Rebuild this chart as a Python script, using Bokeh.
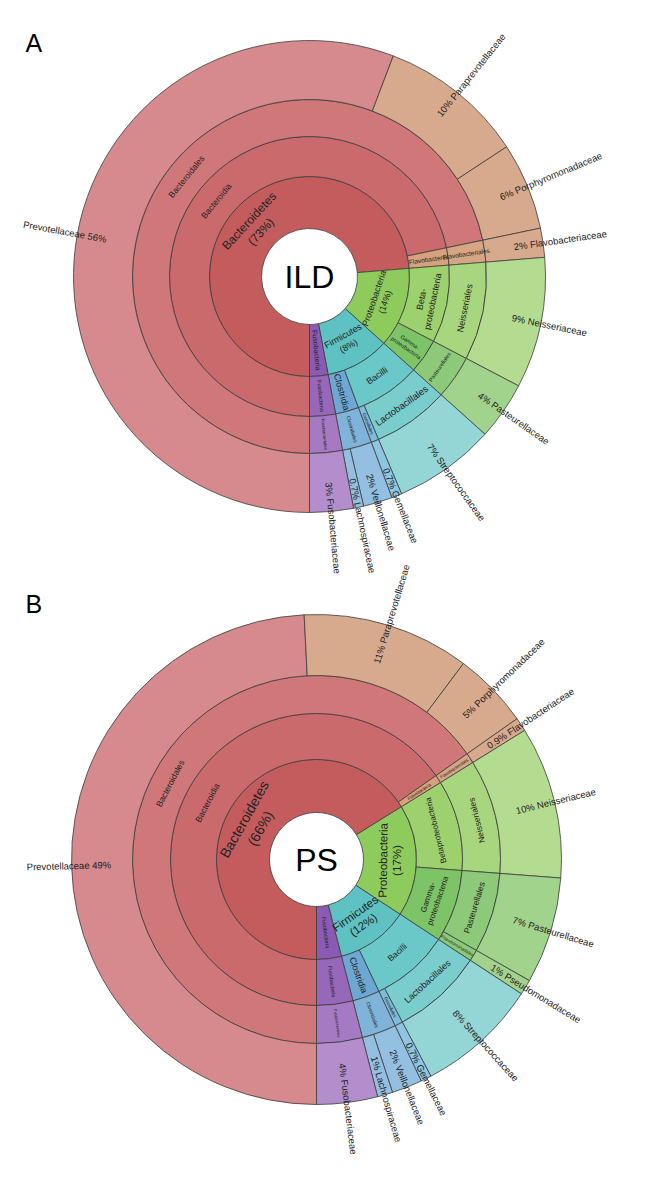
import math
import numpy as np
from bokeh.plotting import figure
from bokeh.models import Range1d
from bokeh.core.properties import value
from bokeh.embed import file_html
from bokeh.resources import INLINE

# ---------------- data ----------------
ild_families = ["Prevotellaceae", "Paraprevotellaceae", "Porphyromonadaceae", "Flavobacteriaceae",
                "Neisseriaceae", "Pasteurellaceae",
                "Streptococcaceae", "Gemellaceae", "Veillonellaceae", "Lachnospiraceae",
                "Fusobacteriaceae"]
ild_family_pct = [56, 10, 6, 2, 9, 4, 7, 0.7, 2, 0.7, 3]
ild_phylum_pct = {"Bacteroidetes": 73, "Proteobacteria": 14, "Firmicutes": 8}

ps_families = ["Prevotellaceae", "Paraprevotellaceae", "Porphyromonadaceae", "Flavobacteriaceae",
               "Neisseriaceae", "Pasteurellaceae", "Pseudomonadaceae",
               "Streptococcaceae", "Gemellaceae", "Veillonellaceae", "Lachnospiraceae",
               "Fusobacteriaceae"]
ps_family_pct = [49, 11, 5, 0.9, 10, 7, 1, 8, 0.7, 2, 1, 4]
ps_phylum_pct = {"Bacteroidetes": 66, "Proteobacteria": 17, "Firmicutes": 12}

# family -> (phylum, class, order)
LINEAGE = {
    "Prevotellaceae": ("Bacteroidetes", "Bacteroidia", "Bacteroidales"),
    "Paraprevotellaceae": ("Bacteroidetes", "Bacteroidia", "Bacteroidales"),
    "Porphyromonadaceae": ("Bacteroidetes", "Bacteroidia", "Bacteroidales"),
    "Flavobacteriaceae": ("Bacteroidetes", "Flavobacteria", "Flavobacteriales"),
    "Neisseriaceae": ("Proteobacteria", "Betaproteobacteria", "Neisseriales"),
    "Pasteurellaceae": ("Proteobacteria", "Gammaproteobacteria", "Pasteurellales"),
    "Pseudomonadaceae": ("Proteobacteria", "Gammaproteobacteria", "Pseudomonadales"),
    "Streptococcaceae": ("Firmicutes", "Bacilli", "Lactobacillales"),
    "Gemellaceae": ("Firmicutes", "Bacilli", "Gemellales"),
    "Veillonellaceae": ("Firmicutes", "Clostridia", "Clostridiales"),
    "Lachnospiraceae": ("Firmicutes", "Clostridia", "Clostridiales"),
    "Fusobacteriaceae": ("Fusobacteria", "Fusobacteria", "Fusobacteriales"),
}

# ---------------- styles ----------------
COLORS = {
    (0, "Bacteroidetes"): "#C45C5E", (1, "Bacteroidia"): "#CA6A6C", (2, "Bacteroidales"): "#CF7779",
    (3, "Prevotellaceae"): "#D78A8D", (3, "Paraprevotellaceae"): "#D7AA8D", (3, "Porphyromonadaceae"): "#D7AA8D",
    (1, "Flavobacteria"): "#D6A17C", (2, "Flavobacteriales"): "#D6A584", (3, "Flavobacteriaceae"): "#D7AA8D",
    (0, "Proteobacteria"): "#8ECB5D", (1, "Betaproteobacteria"): "#9CD16D", (2, "Neisseriales"): "#A8D67E",
    (3, "Neisseriaceae"): "#B4DC91", (1, "Gammaproteobacteria"): "#7DC466", (2, "Pasteurellales"): "#8CCA79",
    (3, "Pasteurellaceae"): "#A2D38D", (2, "Pseudomonadales"): "#8CCA79", (3, "Pseudomonadaceae"): "#A2D38D",
    (0, "Firmicutes"): "#5EC2C2", (1, "Bacilli"): "#6BC8C8", (2, "Lactobacillales"): "#7ACDCD",
    (3, "Streptococcaceae"): "#94D6D6", (2, "Gemellales"): "#7CBCDC", (3, "Gemellaceae"): "#8CC6E2",
    (1, "Clostridia"): "#6CA8D3", (2, "Clostridiales"): "#80B3DA", (3, "Veillonellaceae"): "#93BFE1",
    (3, "Lachnospiraceae"): "#93BFE1",
    (0, "Fusobacteria"): "#8B5BB3", (1, "Fusobacteria"): "#9767BA", (2, "Fusobacteriales"): "#A67AC3",
    (3, "Fusobacteriaceae"): "#B48ECC",
}

STYLE_ILD = {
    (0, "Bacteroidetes"): ("Bacteroidetes\n(73%)", 12, "tan"),
    (0, "Proteobacteria"): ("Proteobacteria\n(14%)", 9, "tan"),
    (0, "Firmicutes"): ("Firmicutes\n(8%)", 9, "tan"),
    (0, "Fusobacteria"): ("Fusobacteria", 7, "rad"),
    (1, "Bacteroidia"): ("Bacteroidia", 8.5, "tan"),
    (1, "Flavobacteria"): ("Flavobacteria", 6.5, "rad"),
    (1, "Betaproteobacteria"): ("Beta-\nproteobacteria", 9, "tan"),
    (1, "Gammaproteobacteria"): ("Gamma-\nproteobacteria", 5.5, "rad"),
    (1, "Bacilli"): ("Bacilli", 9, "tan"),
    (1, "Clostridia"): ("Clostridia", 9, "rad"),
    (1, "Fusobacteria"): ("Fusobacteria", 5.5, "rad"),
    (2, "Bacteroidales"): ("Bacteroidales", 8.5, "tan"),
    (2, "Flavobacteriales"): ("Flavobacteriales", 6.5, "rad"),
    (2, "Neisseriales"): ("Neisseriales", 9, "tan"),
    (2, "Pasteurellales"): ("Pasteurellales", 5.5, "tan"),
    (2, "Lactobacillales"): ("Lactobacillales", 9.5, "tan"),
    (2, "Gemellales"): ("Gemellales", 4.5, "rad"),
    (2, "Clostridiales"): ("Clostridiales", 5, "rad"),
    (2, "Fusobacteriales"): ("Fusobacteriales", 4.5, "rad"),
}
STYLE_PS = {
    (0, "Bacteroidetes"): ("Bacteroidetes\n(66%)", 14, "tan"),
    (0, "Proteobacteria"): ("Proteobacteria\n(17%)", 11.5, "tan"),
    (0, "Firmicutes"): ("Firmicutes\n(12%)", 11.5, "tan"),
    (0, "Fusobacteria"): ("Fusobacteria", 5.5, "rad"),
    (1, "Bacteroidia"): ("Bacteroidia", 8.5, "tan"),
    (1, "Flavobacteria"): ("Flavobacteria", 4.5, "rad"),
    (1, "Betaproteobacteria"): ("Betaproteobacteria", 8, "tan"),
    (1, "Gammaproteobacteria"): ("Gamma-\nproteobacteria", 8, "tan"),
    (1, "Bacilli"): ("Bacilli", 8.5, "tan"),
    (1, "Clostridia"): ("Clostridia", 9, "rad"),
    (1, "Fusobacteria"): ("Fusobacteria", 5.5, "rad"),
    (2, "Bacteroidales"): ("Bacteroidales", 8.5, "tan"),
    (2, "Flavobacteriales"): ("Flavobacteriales", 4.5, "rad"),
    (2, "Neisseriales"): ("Neisseriales", 8.5, "tan"),
    (2, "Pasteurellales"): ("Pasteurellales", 8.5, "tan"),
    (2, "Pseudomonadales"): ("Pseudomonadales", 4.5, "rad"),
    (2, "Lactobacillales"): ("Lactobacillales", 9, "tan"),
    (2, "Gemellales"): ("Gemellales", 4.5, "rad"),
    (2, "Clostridiales"): ("Clostridiales", 5, "rad"),
    (2, "Fusobacteriales"): ("Fusobacteriales", 4, "rad"),
}

FONT = "Liberation Sans"
TXT = "#222222"
W, H = 650, 1180

p = figure(width=634, height=1164, output_backend="svg", toolbar_location=None,
           x_range=Range1d(8, 642), y_range=Range1d(8, 1172),
           x_axis_location=None, y_axis_location=None, min_border=0)
p.grid.visible = False
p.outline_line_color = None
p.background_fill_color = "white"


def fmt(v):
    return "%g" % v


def sunburst(families, pcts, styles, cx, cy_screen, radii, fam_frac, center_text, center_size):
    cy = H - cy_screen
    total = float(sum(pcts))
    cum = np.concatenate([[0.0], np.cumsum(pcts)]) / total
    paths = [LINEAGE[f] + (f,) for f in families]
    ang = lambda c: -math.pi / 2 - 2 * math.pi * c

    wx, wy, r0, r1, a0, a1, col = [], [], [], [], [], [], []
    labels = []

    for lvl in range(4):
        i, n = 0, len(families)
        while i < n:
            key = paths[i][:lvl + 1]
            j = i
            while j + 1 < n and paths[j + 1][:lvl + 1] == key:
                j += 1
            c0, c1 = cum[i], cum[j + 1]
            name = key[-1]
            wx.append(cx); wy.append(cy)
            r0.append(radii[lvl]); r1.append(radii[lvl + 1])
            a0.append(ang(c1)); a1.append(ang(c0))
            col.append(COLORS[(lvl, name)])
            th = ang((c0 + c1) / 2)
            right = math.cos(th) >= 0
            if lvl < 3:
                if (lvl, name) in styles:
                    t, s, mode = styles[(lvl, name)]
                    rm = 0.5 * (radii[lvl] + radii[lvl + 1])
                    x, y = cx + rm * math.cos(th), cy + rm * math.sin(th)
                    if mode == "tan":
                        rot = th + math.pi / 2 if right else th - math.pi / 2
                    else:
                        rot = th if right else th + math.pi
                    labels.append((x, y, t, rot, s, "center"))
            else:
                v = pcts[i]
                rs = radii[3] + fam_frac * (radii[4] - radii[3])
                x, y = cx + rs * math.cos(th), cy + rs * math.sin(th)
                if right:
                    labels.append((x, y, f"{fmt(v)}% {name}", th, 9.5, "left"))
                else:
                    labels.append((x, y, f"{name} {fmt(v)}%", th + math.pi, 9.5, "right"))
            i = j + 1

    p.annular_wedge(x=wx, y=wy, inner_radius=r0, outer_radius=r1, start_angle=a0, end_angle=a1,
                    direction="anticlock", fill_color=col, line_color="#3c3c3c", line_width=0.8)
    for (x, y, t, rot, s, al) in labels:
        p.text(x=[x], y=[y], text=[t], angle=[rot],
               text_align=al, text_baseline="middle", text_font=value(FONT),
               text_font_size=f"{s}px", text_color=TXT, text_line_height=1.15)
    p.text(x=[cx], y=[cy], text=[center_text], text_align="center", text_baseline="middle",
           text_font=value(FONT), text_font_size=f"{center_size}px", text_color="black")


sunburst(ild_families, ild_family_pct, STYLE_ILD, 317, 284, [48, 100, 140, 177, 236], 0.5, "ILD", 32)
sunburst(ps_families, ps_family_pct, STYLE_PS, 324, 867, [47, 100, 146, 184, 245], 0.35, "PS", 32)

# panel letters
p.text(x=[33, 33], y=[H - 50, H - 611], text=["A", "B"], text_align="left", text_baseline="alphabetic",
       text_font=value(FONT), text_font_size="25px", text_color="black")

open("out.html", "w").write(file_html(p, INLINE))
